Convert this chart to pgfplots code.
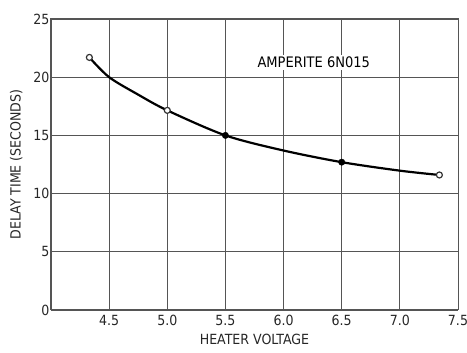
\documentclass[border=0pt]{standalone}
\usepackage{pgfplots}
\pgfplotsset{compat=1.18}
\usepackage{fontspec}
\setmainfont{DejaVu Sans Condensed}
\definecolor{gridgray}{RGB}{85,85,85}
\begin{document}
\begin{tikzpicture}
\begin{axis}[
    scale only axis,
    width=407pt, height=291pt,
    xmin=4.0, xmax=7.5,
    ymin=0, ymax=25,
    xtick={4.0,4.5,...,7.5},
    xticklabels={,4.5,5.0,5.5,6.0,6.5,7.0,7.5},
    ytick={0,5,...,25},
    grid=major,
    major grid style={gridgray, line width=0.9pt},
    axis line style={gridgray, line width=1pt},
    major tick length=0pt,
    tick label style={font=\fontsize{14}{14}\selectfont, text=black!85},
    /pgf/number format/assume math mode=true,
    xticklabel style={yshift=-2pt},
    yticklabel style={xshift=2pt},
    xlabel={HEATER VOLTAGE},
    ylabel={DELAY TIME (SECONDS)},
    label style={font=\fontsize{14}{14}\selectfont, text=black!85},
    xlabel style={yshift=-1pt},
    ylabel style={yshift=4pt},
]
% curve
\addplot[black, line width=2.2pt, smooth, tension=0.5] coordinates {
    (4.33,21.7) (4.5,20.0) (4.75,18.5) (5.0,17.15) (5.5,15.0)
    (6.0,13.7) (6.5,12.7) (7.0,11.97) (7.34,11.6)
};
\addplot[only marks, mark=*, mark size=3pt, mark options={draw=black!80, fill=white, line width=1.2pt}] coordinates {
    (4.33,21.7) (5.0,17.15) (7.34,11.6)
};
\addplot[only marks, mark=*, mark size=3.2pt, mark options={draw=black, fill=black}] coordinates {
    (5.5,15.0) (6.5,12.7)
};
\node[fill=white, inner sep=2pt, font=\fontsize{14.5}{14}\selectfont] at (axis cs:6.26,21.3) {AMPERITE 6N015};
\end{axis}
\pgfresetboundingbox
\path ([shift={(-51pt,-43pt)}]current axis.south west) rectangle ([shift={(9pt,19pt)}]current axis.north east);
\end{tikzpicture}
\end{document}
